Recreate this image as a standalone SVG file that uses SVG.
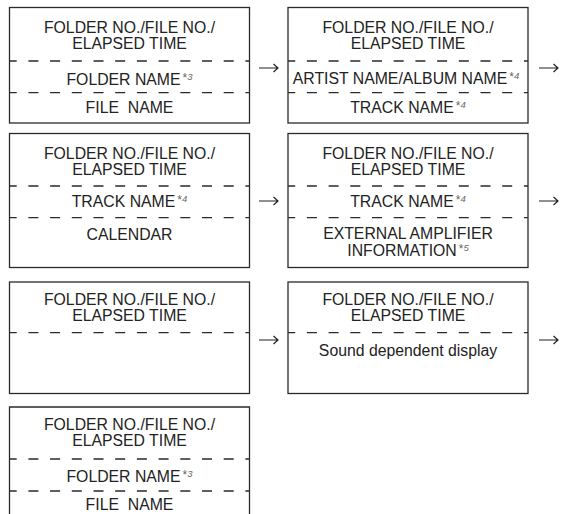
<svg xmlns="http://www.w3.org/2000/svg" width="572" height="514" viewBox="0 0 572 514">
<style>
  .box{fill:none;stroke:#2a2a2a;stroke-width:1.3}
  .dash{stroke:#2a2a2a;stroke-width:1.3;stroke-dasharray:10 11.7;stroke-dashoffset:2.8}
  text{font-family:"Liberation Sans",Arial,sans-serif;font-size:15.8px;fill:#222;text-anchor:middle}
  .pre{white-space:pre}
  .sup{font-size:12px;fill:#666}
  .supn{font-size:9.5px;fill:#666;font-style:italic}
  .arr{fill:none;stroke:#222;stroke-width:1.2}
</style>
<defs>
  <g id="arrow"><path class="arr" d="M0 0H19M14.5 -4L19 0L14.5 4"/></g>
</defs>
<rect width="572" height="514" fill="#fff"/>

<g id="node-1">
  <rect class="box" x="9.5" y="7.5" width="240" height="115.5"/>
  <line class="dash" x1="9.5" y1="61" x2="249.5" y2="61"/>
  <line class="dash" x1="9.5" y1="92.7" x2="249.5" y2="92.7"/>
  <text x="129.5" y="33">FOLDER NO./FILE NO./</text>
  <text x="129.5" y="49">ELAPSED TIME</text>
  <text x="129.5" y="84.5">FOLDER NAME<tspan class="sup" dx="2" dy="-3">*</tspan><tspan class="supn" dy="-2">3</tspan></text>
  <text class="pre" x="129.5" y="113">FILE  NAME</text>
</g>

<g id="node-2">
  <rect class="box" x="288" y="7.5" width="240" height="115.5"/>
  <line class="dash" x1="288" y1="61" x2="528" y2="61"/>
  <line class="dash" x1="288" y1="92.7" x2="528" y2="92.7"/>
  <text x="408" y="33">FOLDER NO./FILE NO./</text>
  <text x="408" y="49">ELAPSED TIME</text>
  <text x="406" y="83.5">ARTIST NAME/ALBUM NAME<tspan class="sup" dx="2" dy="-3">*</tspan><tspan class="supn" dy="-2">4</tspan></text>
  <text x="408" y="113">TRACK NAME<tspan class="sup" dx="2" dy="-3">*</tspan><tspan class="supn" dy="-2">4</tspan></text>
</g>

<g id="node-3">
  <rect class="box" x="9.5" y="133.5" width="240" height="134"/>
  <line class="dash" x1="9.5" y1="186" x2="249.5" y2="186"/>
  <line class="dash" x1="9.5" y1="217.7" x2="249.5" y2="217.7"/>
  <text x="129.5" y="159">FOLDER NO./FILE NO./</text>
  <text x="129.5" y="175">ELAPSED TIME</text>
  <text x="129.5" y="207">TRACK NAME<tspan class="sup" dx="2" dy="-3">*</tspan><tspan class="supn" dy="-2">4</tspan></text>
  <text x="129.5" y="240">CALENDAR</text>
</g>

<g id="node-4">
  <rect class="box" x="288" y="133.5" width="240" height="134"/>
  <line class="dash" x1="288" y1="186" x2="528" y2="186"/>
  <line class="dash" x1="288" y1="217.7" x2="528" y2="217.7"/>
  <text x="408" y="159">FOLDER NO./FILE NO./</text>
  <text x="408" y="175">ELAPSED TIME</text>
  <text x="408" y="207">TRACK NAME<tspan class="sup" dx="2" dy="-3">*</tspan><tspan class="supn" dy="-2">4</tspan></text>
  <text x="408" y="239">EXTERNAL AMPLIFIER</text>
  <text x="408" y="256">INFORMATION<tspan class="sup" dx="2" dy="-3">*</tspan><tspan class="supn" dy="-2">5</tspan></text>
</g>

<g id="node-5">
  <rect class="box" x="9.5" y="282" width="240" height="111.5"/>
  <line class="dash" x1="9.5" y1="332.7" x2="249.5" y2="332.7"/>
  <text x="129.5" y="304.5">FOLDER NO./FILE NO./</text>
  <text x="129.5" y="320.5">ELAPSED TIME</text>
</g>

<g id="node-6">
  <rect class="box" x="288" y="282" width="240" height="111.5"/>
  <line class="dash" x1="288" y1="332.7" x2="528" y2="332.7"/>
  <text x="408" y="304.5">FOLDER NO./FILE NO./</text>
  <text x="408" y="320.5">ELAPSED TIME</text>
  <text x="408" y="355.5">Sound dependent display</text>
</g>

<g id="node-7">
  <path class="box" d="M9.5 520V407H249.5V520"/>
  <line class="dash" x1="9.5" y1="459" x2="249.5" y2="459"/>
  <line class="dash" x1="9.5" y1="491" x2="249.5" y2="491"/>
  <text x="129.5" y="429.5">FOLDER NO./FILE NO./</text>
  <text x="129.5" y="445.5">ELAPSED TIME</text>
  <text x="129.5" y="481.5">FOLDER NAME<tspan class="sup" dx="2" dy="-3">*</tspan><tspan class="supn" dy="-2">3</tspan></text>
  <text class="pre" x="129.5" y="510">FILE  NAME</text>
</g>

<g id="connectors">
  <use href="#arrow" x="259" y="68"/>
  <use href="#arrow" x="539" y="68"/>
  <use href="#arrow" x="259" y="201"/>
  <use href="#arrow" x="539" y="201"/>
  <use href="#arrow" x="259" y="340"/>
  <use href="#arrow" x="539" y="340"/>
</g>
</svg>
